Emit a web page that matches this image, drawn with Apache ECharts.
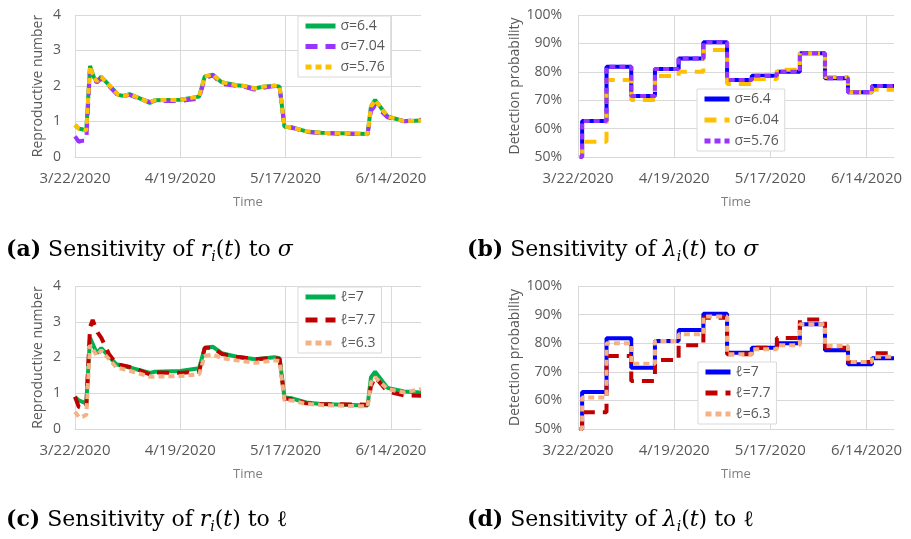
<!DOCTYPE html>
<html><head><meta charset="utf-8">
<script src="https://cdn.jsdelivr.net/npm/echarts@6/dist/echarts.min.js"></script>
<style>html,body{margin:0;padding:0;background:#fff}#c{width:911px;height:539px}</style>
</head><body><div id="c"></div>
<script>
// x positions are days since 3/22/2020
const xTickLabels = ['3/22/2020', '4/19/2020', '5/17/2020', '6/14/2020'];

// (a) reproductive number, sensitivity to sigma  [day, value]
const rSigma64 = [[0,0.90],[1,0.80],[2,0.78],[3,0.74],[4,2.57],[5,2.25],[5.8,2.13],[7,2.26],[9,2.03],[11.5,1.75],[13,1.72],[14.5,1.77],[17.7,1.63],[19.9,1.52],[21.2,1.60],[28,1.61],[33,1.70],[34.5,2.27],[36.7,2.32],[38.9,2.11],[43,2.02],[45,2.0],[47.7,1.93],[50,1.98],[53,2.01],[54.4,1.98],[55.7,0.85],[57.5,0.84],[61.5,0.72],[65.4,0.68],[77.8,0.65],[78.7,1.42],[79.8,1.61],[83.1,1.14],[87.5,1.01],[92,1.03]];
const rSigma704 = [[0,0.58],[1,0.43],[2,0.46],[3,0.46],[4,2.5],[5,2.2],[5.8,2.1],[7,2.22],[9,2.0],[11.5,1.73],[13,1.72],[14.5,1.75],[17.7,1.62],[19.9,1.55],[21.2,1.58],[28,1.58],[33,1.65],[34.5,2.22],[36.7,2.3],[38.9,2.06],[43,2.0],[45,1.98],[47.7,1.9],[50,1.95],[53,2.0],[54.4,1.97],[55.7,0.85],[57.5,0.83],[61.5,0.71],[65.4,0.67],[77.8,0.64],[78.7,1.3],[79.8,1.45],[83.1,1.12],[87.5,1.01],[92,1.05]];
const rSigma576 = [[0,0.90],[1,0.80],[2,0.78],[3,0.74],[4,2.55],[5,2.25],[5.8,2.13],[7,2.26],[9,2.03],[11.5,1.75],[13,1.72],[14.5,1.77],[17.7,1.63],[19.9,1.53],[21.2,1.60],[28,1.61],[33,1.70],[34.5,2.27],[36.7,2.32],[38.9,2.11],[43,2.02],[45,2.0],[47.7,1.93],[50,1.98],[53,2.01],[54.4,1.98],[55.7,0.85],[57.5,0.84],[61.5,0.72],[65.4,0.68],[77.8,0.65],[78.7,1.42],[79.8,1.6],[83.1,1.14],[87.5,1.01],[92,1.03]];

// (c) reproductive number, sensitivity to ell
const rEll7 = [[0,0.90],[1,0.80],[2,0.76],[3,0.72],[4,2.55],[5.8,2.12],[7,2.26],[11,1.81],[14.5,1.72],[20,1.57],[21.2,1.6],[28,1.62],[33,1.70],[34.5,2.27],[36.7,2.30],[39,2.12],[43,2.02],[48,1.95],[53,2.01],[54.4,1.98],[55.7,0.88],[57.5,0.86],[61.5,0.74],[65.4,0.70],[77.8,0.66],[78.7,1.45],[79.8,1.6],[83.1,1.15],[87.5,1.05],[92,1.02]];
const rEll77 = [[0,0.90],[1,0.62],[2,0.58],[3,0.60],[4,2.85],[4.7,3.05],[6,2.7],[7,2.55],[9,2.1],[11,1.82],[14,1.75],[17,1.65],[20,1.52],[21,1.58],[28,1.57],[33,1.60],[34.5,2.27],[36.7,2.27],[39,2.1],[43,2.02],[48,1.95],[53,1.99],[54.4,1.96],[55.7,0.85],[57.5,0.84],[61.5,0.72],[65.4,0.70],[77.8,0.68],[78.7,1.2],[79.8,1.45],[83.1,1.05],[87.5,0.94],[92,0.93]];
const rEll63 = [[0,0.48],[1,0.34],[2,0.34],[3,0.40],[4,2.35],[5.8,2.05],[7,2.2],[11,1.72],[14.5,1.63],[20,1.46],[28,1.48],[33,1.53],[34.5,2.05],[36.7,2.08],[39,1.98],[43,1.92],[48,1.85],[53,1.92],[54.4,1.9],[55.7,0.80],[57.5,0.80],[61.5,0.70],[65.4,0.67],[77.8,0.63],[78.7,1.3],[79.8,1.45],[83.1,1.12],[87.5,1.02],[92,1.12]];

// (b),(d) detection probability (%), weekly step changes at these days
const stepDays = [0.5, 1.2, 8.3, 15.5, 22.4, 29.3, 36.5, 43.4, 50.6, 57.9, 64.6, 71.9, 78.6, 85.6, 92];
const pSigma64  = [50, 62.7, 81.8, 71.5, 81.0, 84.7, 90.4, 77.1, 78.6, 80.0, 86.5, 77.7, 72.8, 75.0, 75.0];
const pSigma604 = [50, 55.4, 77.1, 70.1, 78.5, 80.0, 87.7, 75.7, 77.5, 80.7, 86.5, 78.2, 72.8, 73.7, 73.7];
const pSigma576 = [50, 62.7, 81.8, 71.5, 81.0, 84.7, 90.4, 77.1, 78.6, 80.0, 86.5, 77.7, 72.8, 75.0, 75.0];
const pEll7  = [50, 62.9, 81.7, 71.4, 80.8, 84.6, 90.3, 76.7, 78.4, 80.0, 86.6, 77.5, 72.6, 74.7, 74.7];
const pEll77 = [50, 55.9, 75.5, 66.8, 74.1, 79.3, 88.9, 76.1, 78.4, 81.8, 88.3, 78.4, 73.4, 76.5, 76.5];
const pEll63 = [50, 61.0, 80.0, 72.8, 80.8, 83.1, 89.3, 76.1, 77.9, 79.3, 86.6, 79.0, 73.4, 75.3, 75.3];

const steps = vals => stepDays.map((d, i) => [d, vals[i]]);

const GRID = '#d9d9d9', LBL = '#595959';
const SOLID = 'solid', LONG = [12, 8], SHORT = [6, 4];

const grids = [
  {left: 75, top: 15, width: 346, height: 142},
  {left: 578, top: 15, width: 316, height: 142},
  {left: 75, top: 286, width: 346, height: 143},
  {left: 578, top: 286, width: 316, height: 143}
];

const xAxes = grids.map((g, i) => ({
  type: 'value', gridIndex: i, min: 0, max: 92, interval: 28,
  axisLine: {show: true, lineStyle: {color: GRID, width: 1}},
  axisTick: {show: false},
  axisLabel: {color: LBL, fontSize: 15, fontFamily: 'Open Sans', margin: 14, showMaxLabel: false,
    formatter: v => xTickLabels[Math.round(v / 28)] || ''},
  splitLine: {show: true, showMaxLine: false, lineStyle: {color: GRID}},
  name: 'Time', nameLocation: 'middle', nameGap: 39,
  nameTextStyle: {color: '#7f7f7f', fontSize: 13, fontFamily: 'Open Sans'}
}));

const yAxes = grids.map((g, i) => {
  const isR = (i % 2 === 0);
  return {
    type: 'value', gridIndex: i,
    min: isR ? 0 : 50, max: isR ? 4 : 100, interval: isR ? 1 : 10,
    axisLine: {show: false}, axisTick: {show: false},
    axisLabel: {color: LBL, fontSize: 14, fontFamily: 'Open Sans', margin: isR ? 14 : 16,
      formatter: isR ? '{value}' : '{value}%'},
    splitLine: {show: true, lineStyle: {color: GRID}},
    name: isR ? 'Reproductive number' : 'Detection probability',
    nameLocation: 'middle', nameGap: isR ? 30 : 56,
    nameTextStyle: {color: LBL, fontSize: 14, fontFamily: 'Open Sans'}
  };
});

function line(name, idx, data, color, type, step) {
  return {
    type: 'line', name, xAxisIndex: idx, yAxisIndex: idx, data,
    symbol: 'none', showSymbol: false, step: step || false,
    lineStyle: {color, width: 4, type},
    itemStyle: {color},
    emphasis: {disabled: true}, animation: false
  };
}

const series = [
  line('σ=6.4|a', 0, rSigma64, '#00b050', SOLID),
  line('σ=7.04|a', 0, rSigma704, '#9933ff', LONG),
  line('σ=5.76|a', 0, rSigma576, '#ffc000', SHORT),
  line('σ=6.4|b', 1, steps(pSigma64), '#0000ff', SOLID, 'end'),
  line('σ=6.04|b', 1, steps(pSigma604), '#ffc000', LONG, 'end'),
  line('σ=5.76|b', 1, steps(pSigma576), '#9933ff', SHORT, 'end'),
  line('ℓ=7|c', 2, rEll7, '#00b050', SOLID),
  line('ℓ=7.7|c', 2, rEll77, '#c00000', LONG),
  line('ℓ=6.3|c', 2, rEll63, '#f4b183', SHORT),
  line('ℓ=7|d', 3, steps(pEll7), '#0000ff', SOLID, 'end'),
  line('ℓ=7.7|d', 3, steps(pEll77), '#c00000', LONG, 'end'),
  line('ℓ=6.3|d', 3, steps(pEll63), '#f4b183', SHORT, 'end')
];

function legend(names, left, top, itemWidth, gap) {
  return {
    data: names, left, top, orient: 'vertical', itemWidth, itemHeight: 14, itemGap: gap,
    padding: [3, 6, 3, 5], borderColor: GRID, borderWidth: 1, backgroundColor: '#fff',
    selectedMode: false, formatter: n => n.split('|')[0],
    itemStyle: {opacity: 0},
    lineStyle: {width: 5},
    textStyle: {color: LBL, fontSize: 14, fontFamily: 'Open Sans'}
  };
}

const legends = [
  legend(['σ=6.4|a', 'σ=7.04|a', 'σ=5.76|a'], 298, 16, 30, 6.5),
  legend(['σ=6.4|b', 'σ=6.04|b', 'σ=5.76|b'], 697, 89, 25, 7),
  legend(['ℓ=7|c', 'ℓ=7.7|c', 'ℓ=6.3|c'], 298, 287, 30, 9),
  legend(['ℓ=7|d', 'ℓ=7.7|d', 'ℓ=6.3|d'], 698, 362, 25, 7)
];

const SERIF = '"DejaVu Serif"';
const rich = {
  b: {fontWeight: 'bold', fontFamily: SERIF, fontSize: 22, color: '#000'},
  i: {fontStyle: 'italic', fontFamily: SERIF, fontSize: 22, color: '#000'},
  s: {fontStyle: 'italic', fontFamily: SERIF, fontSize: 14, color: '#000', verticalAlign: 'bottom', lineHeight: 14}
};
function caption(text, left, top) {
  return {type: 'text', left, top, silent: true,
    style: {text, rich, fontFamily: SERIF, fontSize: 22, fill: '#000', lineHeight: 28}};
}

const chart = echarts.init(document.getElementById('c'), null, {renderer: 'canvas'});
chart.setOption({
  animation: false,
  backgroundColor: '#fff',
  grid: grids,
  xAxis: xAxes,
  yAxis: yAxes,
  legend: legends,
  series,
  graphic: [
    caption('{b|(a)} Sensitivity of {i|r}{s|i}({i|t}) to {i|σ}', 6, 236),
    caption('{b|(b)} Sensitivity of {i|λ}{s|i}({i|t}) to {i|σ}', 467, 236),
    caption('{b|(c)} Sensitivity of {i|r}{s|i}({i|t}) to ℓ', 6, 506),
    caption('{b|(d)} Sensitivity of {i|λ}{s|i}({i|t}) to ℓ', 467, 506)
  ]
});
</script></body></html>
